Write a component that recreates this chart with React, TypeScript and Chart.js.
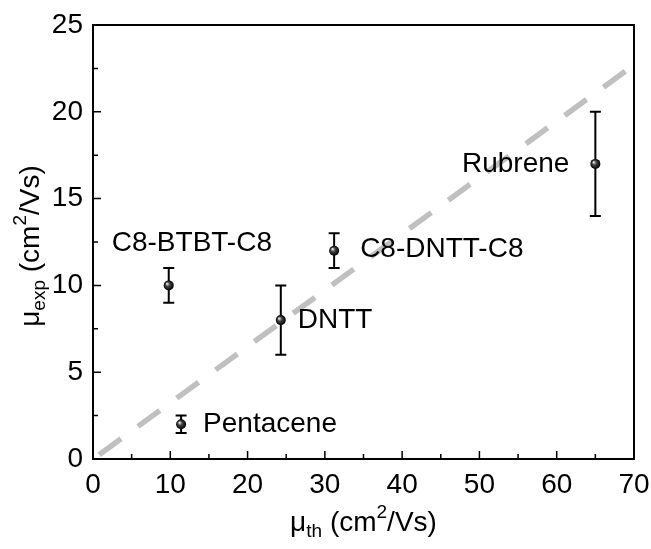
import React, { useEffect, useRef } from "react";
import { Chart, registerables } from "chart.js";

Chart.register(...registerables);

const materials = ["Pentacene", "C8-BTBT-C8", "DNTT", "C8-DNTT-C8", "Rubrene"];
const muTh = [11.4, 9.8, 24.3, 31.2, 65.0];
const muExp = [2, 10, 8, 12, 17];
const muErr = [0.5, 1, 2, 1, 3];
const fitX = [0.8, 70];
const fitY = [0.25, 22.7];
const xTicks = [0, 10, 20, 30, 40, 50, 60, 70];
const yTicks = [0, 5, 10, 15, 20, 25];

// label placement: [dx, dy, align]
const labelOffsets: [number, number, CanvasTextAlign][] = [
  [22, 0, "left"],
  [-57, -42, "left"],
  [17, 0, "left"],
  [26, -1, "left"],
  [-26, 0, "right"],
];

const FONT = "'Liberation Sans', Arial, sans-serif";

function drawRich(ctx: CanvasRenderingContext2D, parts: { t: string; s?: "sub" | "sup" }[], x: number, y: number, size: number) {
  let total = 0;
  const widths: number[] = [];
  for (const p of parts) {
    ctx.font = `${p.s ? size * 0.68 : size}px ${FONT}`;
    const w = ctx.measureText(p.t).width;
    widths.push(w);
    total += w;
  }
  let cx = x - total / 2;
  parts.forEach((p, i) => {
    ctx.font = `${p.s ? size * 0.68 : size}px ${FONT}`;
    let dy = 0;
    if (p.s === "sub") dy = size * 0.32;
    if (p.s === "sup") dy = -size * 0.38;
    ctx.fillText(p.t, cx, y + dy);
    cx += widths[i];
  });
}

const customPlugin = {
  id: "custom",
  afterDatasetsDraw(chart: any) {
    const ctx: CanvasRenderingContext2D = chart.ctx;
    const xs = chart.scales.x;
    const ys = chart.scales.y;
    const a = chart.chartArea;
    ctx.save();
    // error bars
    ctx.strokeStyle = "#000";
    ctx.lineWidth = 2;
    for (let i = 0; i < muTh.length; i++) {
      const px = xs.getPixelForValue(muTh[i]);
      const top = ys.getPixelForValue(muExp[i] + muErr[i]);
      const bot = ys.getPixelForValue(muExp[i] - muErr[i]);
      ctx.beginPath();
      ctx.moveTo(px, top);
      ctx.lineTo(px, bot);
      ctx.moveTo(px - 5.5, top);
      ctx.lineTo(px + 5.5, top);
      ctx.moveTo(px - 5.5, bot);
      ctx.lineTo(px + 5.5, bot);
      ctx.stroke();
    }
    // markers
    for (let i = 0; i < muTh.length; i++) {
      const px = xs.getPixelForValue(muTh[i]);
      const py = ys.getPixelForValue(muExp[i]);
      const g = ctx.createRadialGradient(px - 1.8, py - 1.8, 0.3, px, py, 5);
      g.addColorStop(0, "#eeeeee");
      g.addColorStop(0.4, "#444");
      g.addColorStop(1, "#000");
      ctx.fillStyle = g;
      ctx.beginPath();
      ctx.arc(px, py, 5, 0, Math.PI * 2);
      ctx.fill();
    }
    // labels
    ctx.fillStyle = "#000";
    ctx.font = `28px ${FONT}`;
    ctx.textBaseline = "middle";
    for (let i = 0; i < materials.length; i++) {
      const px = xs.getPixelForValue(muTh[i]);
      const py = ys.getPixelForValue(muExp[i]);
      const [dx, dy, al] = labelOffsets[i];
      ctx.textAlign = al;
      ctx.fillText(materials[i], px + dx, py + dy);
    }
    // frame
    ctx.strokeStyle = "#000";
    ctx.lineWidth = 2;
    ctx.strokeRect(a.left, a.top, a.right - a.left, a.bottom - a.top);
    // inward ticks
    ctx.lineWidth = 1.5;
    ctx.beginPath();
    for (let v = 0; v <= 70; v += 5) {
      const px = xs.getPixelForValue(v);
      const len = v % 10 === 0 ? 8 : 5;
      ctx.moveTo(px, a.bottom);
      ctx.lineTo(px, a.bottom - len);
    }
    for (let v = 0; v <= 25; v += 2.5) {
      const py = ys.getPixelForValue(v);
      const len = v % 5 === 0 ? 8 : 5;
      ctx.moveTo(a.left, py);
      ctx.lineTo(a.left + len, py);
    }
    ctx.stroke();
    // axis titles
    ctx.textAlign = "left";
    ctx.textBaseline = "middle";
    ctx.fillStyle = "#000";
    drawRich(ctx, [{ t: "\u03bc" }, { t: "th", s: "sub" }, { t: " (cm" }, { t: "2", s: "sup" }, { t: "/Vs)" }], (a.left + a.right) / 2, 523, 28);
    ctx.save();
    ctx.translate(31, 246);
    ctx.rotate(-Math.PI / 2);
    drawRich(ctx, [{ t: "\u03bc" }, { t: "exp", s: "sub" }, { t: " (cm" }, { t: "2", s: "sup" }, { t: "/Vs)" }], 0, 0, 28);
    ctx.restore();
    ctx.restore();
  },
};

export default function App() {
  const ref = useRef<HTMLCanvasElement>(null);
  useEffect(() => {
    document.body.style.margin = "0";
    const chart = new Chart(ref.current!, {
      type: "scatter",
      data: {
        datasets: [
          {
            type: "line",
            data: fitX.map((x, i) => ({ x, y: fitY[i] })),
            borderColor: "#c0c0c0",
            borderWidth: 5.5,
            borderDash: [27, 21],
            pointRadius: 0,
            fill: false,
          } as any,
          {
            data: muTh.map((x, i) => ({ x, y: muExp[i] })),
            pointRadius: 0,
            backgroundColor: "#000",
          },
        ],
      },
      options: {
        animation: false,
        responsive: false,
        plugins: { legend: { display: false }, tooltip: { enabled: false } },
        layout: { padding: { left: 0, right: 17, top: 25, bottom: 0 } },
        scales: {
          x: {
            type: "linear",
            min: 0,
            max: 70,
            afterFit: (s: any) => { s.height = 90; s.paddingLeft = 0; s.paddingRight = 0; },
            afterBuildTicks: (s: any) => { s.ticks = xTicks.map((v) => ({ value: v })); },
            grid: { display: false, drawTicks: false },
            border: { display: false },
            ticks: { color: "#000", padding: 9, font: { size: 28, family: FONT } },
          },
          y: {
            type: "linear",
            min: 0,
            max: 25,
            afterFit: (s: any) => { s.width = 93; s.paddingTop = 0; s.paddingBottom = 0; },
            afterBuildTicks: (s: any) => { s.ticks = yTicks.map((v) => ({ value: v })); },
            grid: { display: false, drawTicks: false },
            border: { display: false },
            ticks: { color: "#000", padding: 10, font: { size: 28, family: FONT } },
          },
        },
      },
      plugins: [customPlugin],
    });
    return () => chart.destroy();
  }, []);
  return (
    <div style={{ position: "relative", width: 651, height: 549 }}>
      <canvas ref={ref} width={651} height={549} style={{ display: "block" }} />
    </div>
  );
}
